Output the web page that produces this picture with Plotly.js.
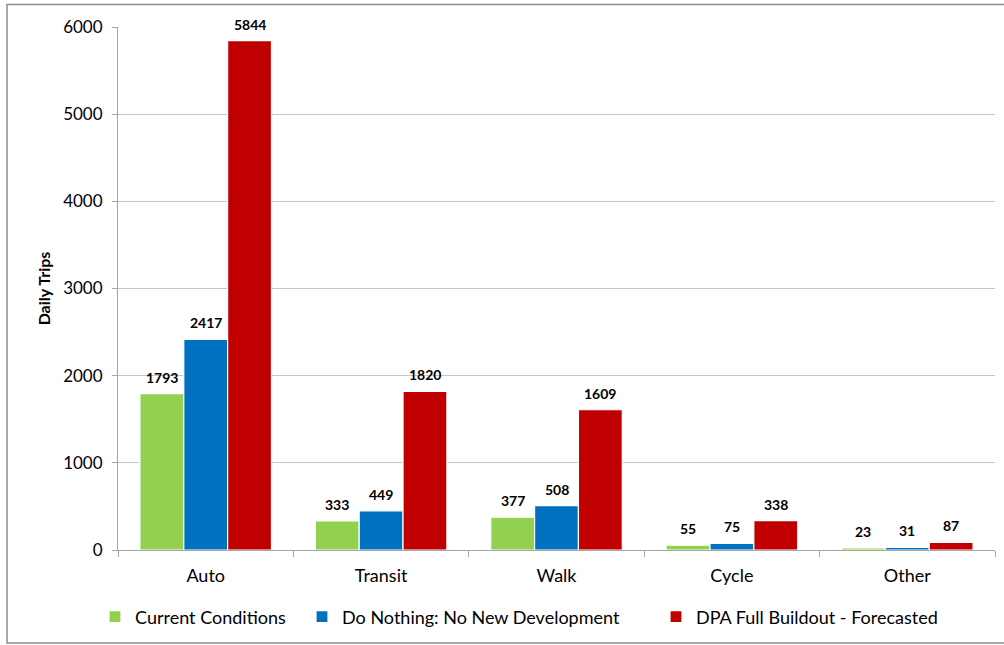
<!DOCTYPE html>
<html>
<head>
<meta charset="utf-8">
<script src="https://cdn.plot.ly/plotly-3.0.1.min.js"></script>
<style>
  html, body { margin: 0; padding: 0; background: #ffffff; }
  #chart { width: 1004px; height: 645px; }
</style>
</head>
<body>
<div id="chart"></div>
<script>
// Daily trips by travel mode under three scenarios
const modes = ["Auto", "Transit", "Walk", "Cycle", "Other"];
const seriesNames = ["Current Conditions", "Do Nothing: No New Development", "DPA Full Buildout - Forecasted"];
const currentConditions = [1793, 333, 377, 55, 23];
const doNothing = [2417, 449, 508, 75, 31];
const fullBuildout = [5844, 1820, 1609, 338, 87];
const yTicks = [0, 1000, 2000, 3000, 4000, 5000, 6000];

const colors = ["#92D050", "#0070C0", "#C00000"];
const allSeries = [currentConditions, doNothing, fullBuildout];
const legendIds = ["legend", "legend2", "legend3"];

const font = "Lato, 'Open Sans', 'DejaVu Sans', sans-serif";

const traces = allSeries.map((vals, i) => ({
  type: "bar",
  name: seriesNames[i],
  x: modes,
  y: vals,
  legend: legendIds[i],
  marker: { color: colors[i], line: { color: "#ffffff", width: 1.2 } },
  hoverinfo: "x+y+name"
}));

// Value labels above each bar, offset to the bar's slot within its group
const bargap = 0.25;
const slot = (1 - bargap) / allSeries.length;
const annotations = [];
allSeries.forEach((vals, i) => {
  const offset = -((1 - bargap) / 2) + slot * (i + 0.5);
  vals.forEach((v, j) => {
    annotations.push({
      xref: "x", yref: "y",
      x: j + offset, y: v,
      text: String(v),
      showarrow: false,
      yanchor: "bottom",
      yshift: 6,
      font: { family: font, size: 14, color: "#000000", weight: "bold" }
    });
  });
});

// Plot-area edges in pixels, used to place the frame and legends
const L = 118, R = 995, T = 27, B = 550;
const px = v => (v - L) / (R - L);
const py = v => (B - v) / (B - T);

const legendFont = { family: font, size: 18, color: "#000000" };
const legendAt = left => ({
  orientation: "h",
  x: px(left), xanchor: "left",
  y: py(617), yanchor: "middle",
  font: legendFont,
  bgcolor: "rgba(0,0,0,0)"
});

const layout = {
  width: 1004,
  height: 645,
  margin: { l: L, r: 1004 - R, t: T, b: 645 - B, pad: 0 },
  paper_bgcolor: "#ffffff",
  plot_bgcolor: "#ffffff",
  barmode: "group",
  bargap: bargap,
  bargroupgap: 0,
  font: { family: font, size: 16, color: "#000000" },
  showlegend: true,
  legend: legendAt(95),
  legend2: legendAt(302),
  legend3: legendAt(656),
  xaxis: {
    type: "category",
    tickson: "boundaries",
    ticks: "outside",
    ticklen: 6,
    tickcolor: "#a6a6a6",
    showline: true,
    linecolor: "#a6a6a6",
    linewidth: 1,
    showgrid: false,
    tickfont: { family: font, size: 18, color: "#000000" },
    ticklabelstandoff: 9,
    fixedrange: true
  },
  yaxis: {
    range: [0, 6000],
    tickvals: yTicks,
    ticktext: yTicks.map(String),
    ticks: "outside",
    ticklen: 5,
    tickcolor: "#a6a6a6",
    showline: true,
    linecolor: "#a6a6a6",
    linewidth: 1,
    showgrid: true,
    gridcolor: "#c6c6c6",
    gridwidth: 1,
    zeroline: false,
    tickfont: { family: font, size: 17, color: "#000000" },
    ticklabelstandoff: 6,
    title: {
      text: "Daily Trips",
      font: { family: font, size: 16, color: "#000000", weight: "bold" },
      standoff: 8
    },
    automargin: false,
    fixedrange: true
  },
  annotations: annotations,
  shapes: [
    {
      type: "rect", xref: "paper", yref: "paper", layer: "below",
      x0: px(7), x1: px(1010), y0: py(643), y1: py(4.5),
      line: { color: "#8c8c8c", width: 1.5 },
      fillcolor: "rgba(0,0,0,0)"
    }
  ]
};

Plotly.newPlot("chart", traces, layout, { displayModeBar: false, staticPlot: true });
</script>
</body>
</html>
